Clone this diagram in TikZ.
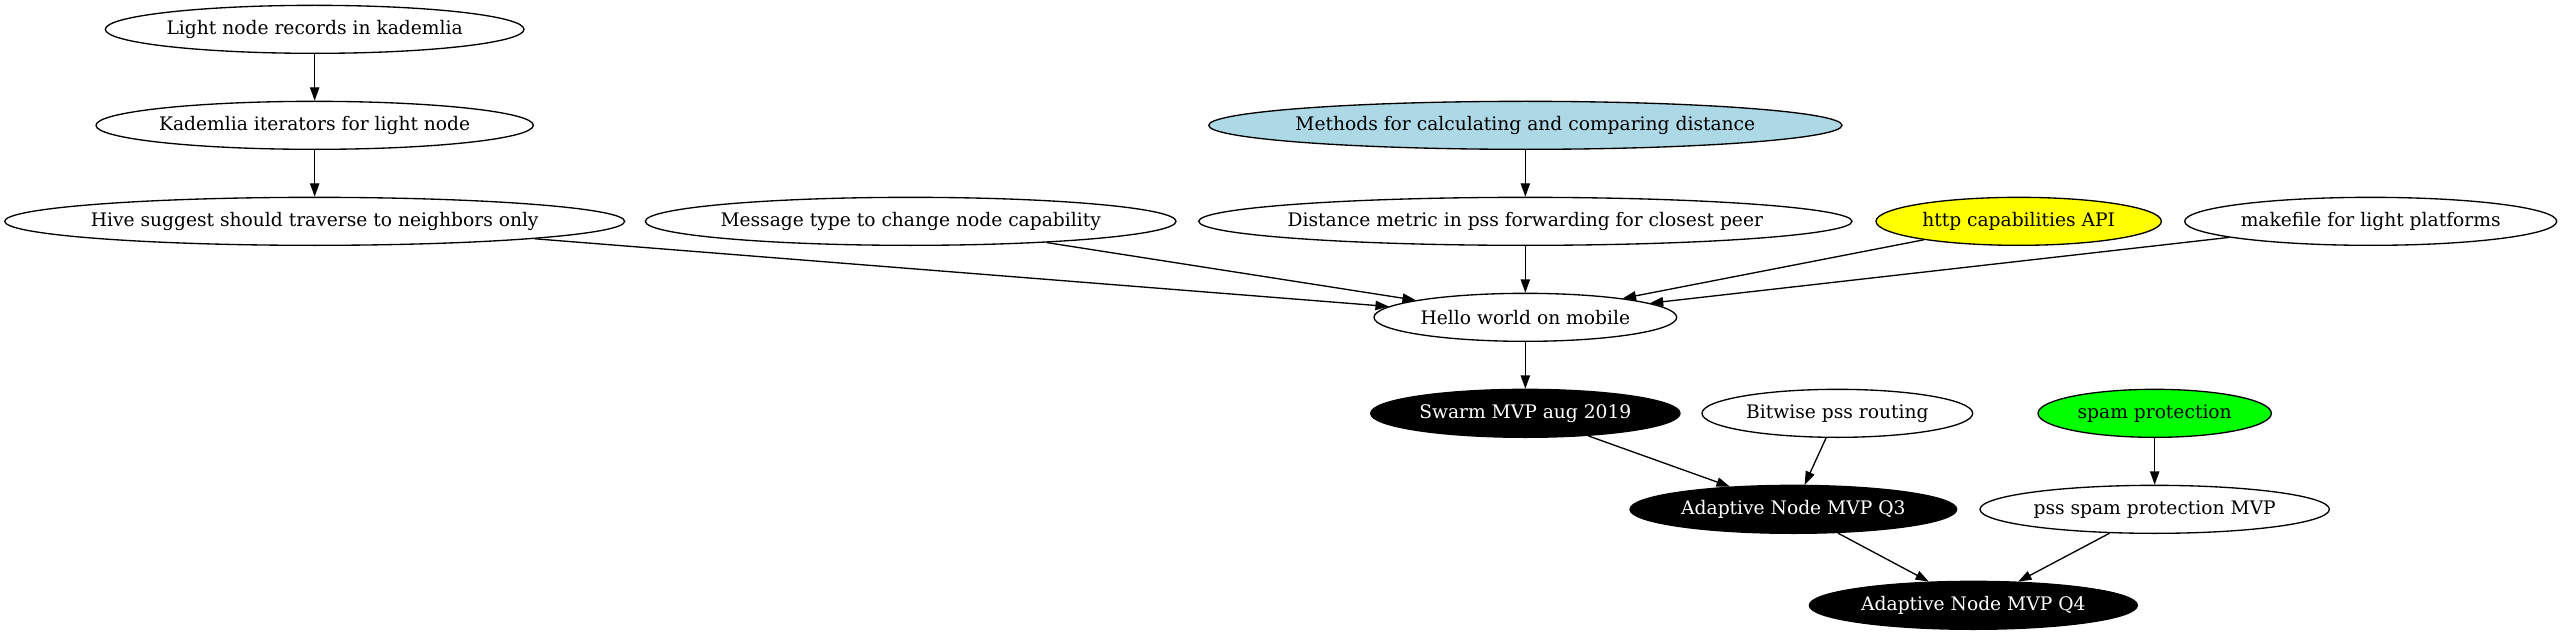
\documentclass[tikz,border=0pt]{standalone}
\usepackage{fontspec}
\setmainfont{DejaVu Serif}
\usepackage{xcolor}
\usepackage{tikz}
\usetikzlibrary{shapes.geometric,arrows.meta}
\definecolor{NodeBlue}{RGB}{173,216,230}
\definecolor{NodeYellow}{RGB}{255,255,0}
\definecolor{NodeGreen}{RGB}{0,255,0}
\tikzset{
    common/.style={ellipse, draw=black, line width=1pt, minimum height=36pt, inner xsep=-14pt, inner ysep=0pt, font=\fontsize{14}{16}\selectfont},
    dep_edge/.style={draw=black, line width=1pt, -{Triangle[length=10pt,width=7pt]}}
}

\begin{document}
\begin{tikzpicture}[
        x=1pt, y=1pt,
        % Nút thường - nền trắng
        plain_node/.style={
            common,
            fill=white
        },
        % Nút xanh nhạt
        blue_node/.style={
            common,
            fill=NodeBlue
        },
        % Nút vàng
        yellow_node/.style={
            common,
            fill=NodeYellow
        },
        % Nút xanh lá
        green_node/.style={
            common,
            fill=NodeGreen
        },
        % Nút mốc - nền đen, chữ trắng
        milestone_node/.style={
            common,
            fill=black,
            text=white
        }
    ]

        % --- KHUNG ẢNH ---
        \useasboundingbox (0,0) rectangle (1921.5,-476);

        % --- CỘT TRÁI ---
        \node[plain_node, minimum width=314pt] (light) at (236,-22) {Light node records in kademlia};
        \node[plain_node, minimum width=328pt] (kadit) at (236,-94) {Kademlia iterators for light node};
        \node[plain_node, minimum width=465pt] (hive) at (236,-166) {Hive suggest should traverse to neighbors only};

        % --- HÀNG GIỮA ---
        \node[plain_node, minimum width=398pt] (msgtype) at (683,-166) {Message type to change node capability};
        \node[blue_node, minimum width=475pt] (methods) at (1144,-94) {Methods for calculating and comparing distance};
        \node[plain_node, minimum width=490pt] (distance) at (1144,-166) {Distance metric in pss forwarding for closest peer};
        \node[yellow_node, minimum width=214pt] (httpapi) at (1514,-166) {http capabilities API};
        \node[plain_node, minimum width=279pt] (makefile) at (1778,-166) {makefile for light platforms};
        \node[plain_node, minimum width=227pt] (hello) at (1144,-238) {Hello world on mobile};

        % --- CÁC MỐC ---
        \node[milestone_node, minimum width=232pt] (swarm) at (1144,-310) {Swarm MVP aug 2019};
        \node[plain_node, minimum width=203pt] (bitwise) at (1378,-310) {Bitwise pss routing};
        \node[green_node, minimum width=175pt] (spam) at (1616,-310) {spam protection};
        \node[milestone_node, minimum width=245pt] (q3) at (1345,-382) {Adaptive Node MVP Q3};
        \node[plain_node, minimum width=262pt] (pssspam) at (1616,-382) {pss spam protection MVP};
        \node[milestone_node, minimum width=246pt] (q4) at (1480,-454) {Adaptive Node MVP Q4};

        % --- ĐƯỜNG NỐI ---
        \draw[dep_edge] (light) -- (kadit);
        \draw[dep_edge] (kadit) -- (hive);
        \draw[dep_edge] (methods) -- (distance);
        \foreach \src in {hive, msgtype, distance, httpapi, makefile} {
            \draw[dep_edge] (\src) -- (hello);
        }
        \draw[dep_edge] (hello) -- (swarm);
        \draw[dep_edge] (swarm) -- (q3);
        \draw[dep_edge] (bitwise) -- (q3);
        \draw[dep_edge] (spam) -- (pssspam);
        \draw[dep_edge] (q3) -- (q4);
        \draw[dep_edge] (pssspam) -- (q4);

    \end{tikzpicture}
\end{document}
